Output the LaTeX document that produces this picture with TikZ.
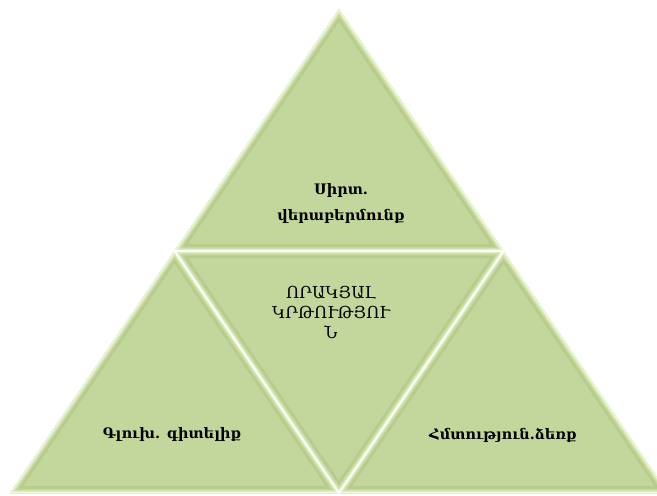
\documentclass[tikz,border=0pt]{standalone}
\usepackage{fontspec}
\newfontfamily\armfont{DejaVu Serif}
\definecolor{leaf}{RGB}{195,214,155}
\definecolor{leafhi}{RGB}{222,238,190}
\definecolor{leafedge}{RGB}{238,247,222}
\definecolor{leafdark}{RGB}{182,203,140}
\tikzset{
  x=1pt, y=-1pt,
  piecelabel/.style={font=\armfont\bfseries\fontsize{14.5}{26}\selectfont, text=black, align=center},
  centrelabel/.style={font=\armfont\fontsize{16.5}{20}\selectfont, text=black, align=center},
  seam/.style={draw=white, line width=1.6pt, line cap=round}
}
% one bevelled triangular piece
\newcommand{\bevelpiece}[3]{%
  \begin{scope}
    \clip #1 -- #2 -- #3 -- cycle;
    \fill[leaf] #1 -- #2 -- #3 -- cycle;
    \draw[leafdark, line width=14pt] #1 -- #2 -- #3 -- cycle;
    \draw[leaf, line width=9pt] #1 -- #2 -- #3 -- cycle;
    \draw[leaf!50!leafhi, line width=6pt] #1 -- #2 -- #3 -- cycle;
    \draw[leafhi, line width=4pt] #1 -- #2 -- #3 -- cycle;
    \draw[leafedge, line width=2pt] #1 -- #2 -- #3 -- cycle;
  \end{scope}}
\begin{document}
\begin{tikzpicture}
  \useasboundingbox (0,0) rectangle (657,496);
  \clip (0,0) rectangle (657,496);
  \fill[white] (0,0) rectangle (657,496);
  % corners of the large triangle and the midpoints of its sides
  \coordinate (apex) at (339,9);
  \coordinate (bl) at (10,493);
  \coordinate (br) at (668,493);
  \coordinate (ml) at (174.5,251);
  \coordinate (mr) at (503.5,251);
  \coordinate (mb) at (339,493);
  % the four pieces
  \bevelpiece{(apex)}{(ml)}{(mr)}
  \bevelpiece{(ml)}{(bl)}{(mb)}
  \bevelpiece{(mr)}{(mb)}{(br)}
  \bevelpiece{(ml)}{(mr)}{(mb)}
  % seams between the pieces
  \draw[seam] (ml) -- (mr);
  \draw[seam] (ml) -- (mb);
  \draw[seam] (mr) -- (mb);
  % labels
  \node[piecelabel] (heart) at (341,203) {Սիրտ.\\վերաբերմունք};
  \node[centrelabel] (core) at (331,312) {ՈՐԱԿՅԱԼ\\ԿՐԹՈՒԹՅՈՒ\\Ն};
  \node[piecelabel] (head) at (172,434) {Գլուխ. գիտելիք};
  \node[piecelabel] (hand) at (503,435) {Հմտություն.ձեռք};
\end{tikzpicture}
\end{document}
